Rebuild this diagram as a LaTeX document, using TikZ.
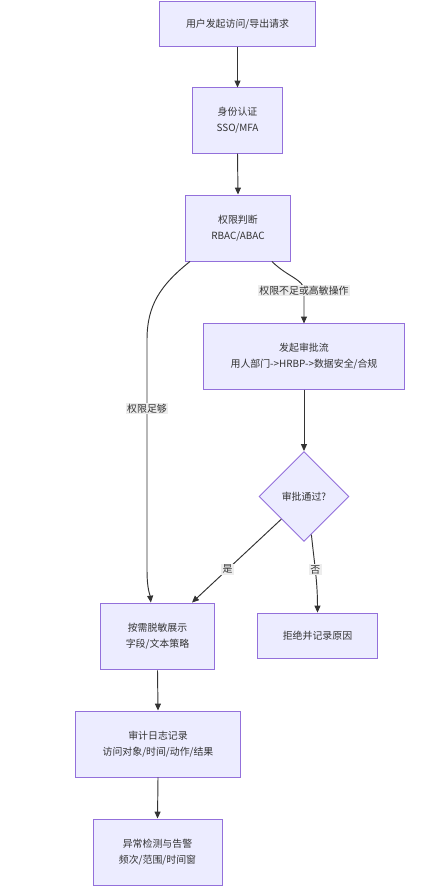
\documentclass[tikz,border=0pt]{standalone}
\usepackage{fontspec}
\setmainfont{Noto Sans CJK SC}
\usepackage{xcolor}
\usepackage{tikz}
\usetikzlibrary{arrows.meta,shapes.geometric,calc}
\definecolor{flowfill}{HTML}{ECECFF}
\definecolor{flowedge}{HTML}{9370DB}
\definecolor{flowline}{HTML}{333333}
\definecolor{flowink}{HTML}{333333}
\definecolor{flowlabel}{HTML}{EDEDED}

\begin{document}
\begin{tikzpicture}[
  font=\fontsize{9.4}{15}\selectfont, text=flowink,
  box/.style={draw=flowedge, fill=flowfill, line width=0.9pt, align=center, inner sep=0pt},
  gate/.style={diamond, aspect=1, draw=flowedge, fill=flowfill, line width=0.9pt,
               inner sep=0pt, minimum size=3cm},
  lf/.style={-{Triangle[length=2.3mm, width=2mm]}, flowline, line width=0.9pt},
  elab/.style={fill=flowlabel, inner sep=1.2pt, text=flowink},
]
\useasboundingbox (0,0) rectangle (14.833,-29.667);
\node[box, minimum width=5.23cm, minimum height=1.5cm] (req) at (7.917,-0.8) {用户发起访问/导出请求};
\node[box, minimum width=3.03cm, minimum height=2.17cm] (auth) at (7.917,-4.017) {身份认证\\SSO/MFA};
\node[box, minimum width=3.47cm, minimum height=2.2cm] (perm) at (7.933,-7.6) {权限判断\\RBAC/ABAC};
\node[box, minimum width=6.67cm, minimum height=2.17cm] (appr) at (10.133,-11.883)
   {发起审批流\\用人部门->HRBP->数据安全/合规};
\node[gate] (ok) at (10.133,-16.55) {审批通过?};
\node[box, minimum width=3.83cm, minimum height=2.23cm] (mask) at (5.25,-21.217) {按需脱敏展示\\字段/文本策略};
\node[box, minimum width=4.03cm, minimum height=1.53cm] (deny) at (10.583,-21.2) {拒绝并记录原因};
\node[box, minimum width=5.47cm, minimum height=2.2cm] (audit) at (5.267,-24.8) {审计日志记录\\访问对象/时间/动作/结果};
\node[box, minimum width=4.3cm, minimum height=2.2cm] (alarm) at (5.25,-28.4) {异常检测与告警\\频次/范围/时间窗};
\draw[lf] (req.south) -- (auth.north);
\draw[lf] (auth.south) -- (perm.north);
\draw[lf] ($(perm.south)+(1.13,0)$)
   .. controls ($(perm.south)+(1.67,-0.53)$) and ($(appr.north)+(0,1.47)$)
   .. ($(appr.north)+(0,1.1)$) node[elab]{权限不足或高敏操作} -- (appr.north);
\draw[lf] ($(perm.south)+(-1.6,0)$)
   .. controls ($(perm.south)+(-2.6,-0.8)$) and ($(perm.south)+(-3.03,-1.47)$)
   .. ($(mask.north)+(-0.35,8.77)$) -- node[elab, pos=0.3]{权限足够} ($(mask.north)+(-0.35,1.1)$)
   .. controls ($(mask.north)+(-0.35,0.43)$) and ($(mask.north)+(-0.25,0.27)$) .. ($(mask.north)+(-0.22,0)$);
\draw[lf] (appr.south) -- (ok.north);
\draw[lf] (ok.south west) -- node[elab, pos=0.6]{是} ($(mask.north)+(1.15,0)$);
\draw[lf] (ok.-79) to[out=-84, in=90] node[elab, pos=0.45]{否} (deny.north);
\draw[lf] (mask.south) -- (audit.north);
\draw[lf] (audit.south) -- (alarm.north);
\end{tikzpicture}
\end{document}
